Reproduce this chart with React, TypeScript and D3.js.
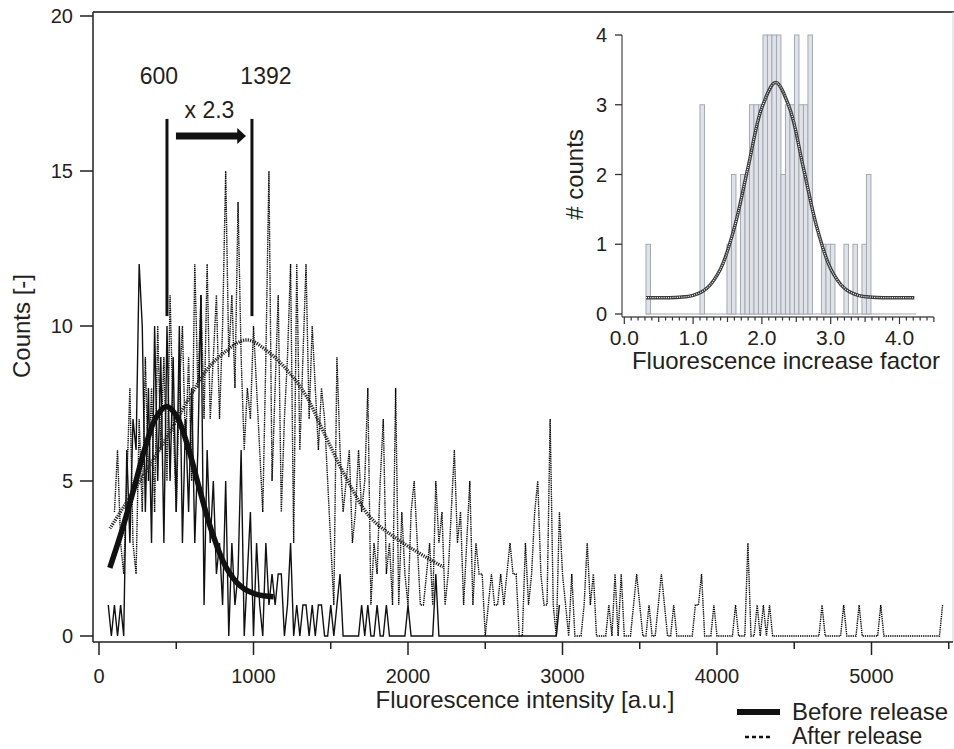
import React from "react";
import * as d3 from "d3";

// main histogram: counts per 20 a.u. bin
const binWidth = 20;
const beforeStart = 60;
const afterStart = 100;

const beforeCounts = [
  1, 0, 1, 0, 1, 0, 6, 3, 7, 6,
  12, 10, 4, 8, 3, 10, 5, 9, 3, 10,
  5, 9, 4, 10, 3, 7, 4, 8, 3, 6,
  11, 1, 6, 3, 5, 2, 3, 1, 5, 0,
  3, 1, 2, 6, 0, 2, 4, 0, 3, 1,
  0, 3, 1, 2, 1, 2, 2, 0, 1, 3,
  0, 1, 0, 1, 1, 0, 1, 0, 1, 1,
  0, 0, 1, 0, 1, 2, 0, 0, 0, 0,
  0, 0, 1, 0, 1, 0, 0, 1, 0, 0,
  1, 0, 0, 0, 0, 0, 0, 1, 0, 0,
  0, 0, 0, 0, 0, 0, 2, 0, 0, 0,
  0, 0, 0, 0, 0, 0, 0, 0, 0, 0,
  0, 0, 0, 0, 0, 0, 0, 0, 0, 0,
  0, 0, 0, 0, 0, 0, 0, 0, 0, 0,
  0, 0, 0, 0, 0, 0, 1,
];

const afterCounts = [
  4, 6, 3, 2, 5, 8, 3, 2, 7, 4,
  9, 5, 8, 4, 10, 6, 9, 5, 11, 7,
  4, 8, 10, 6, 9, 5, 12, 8, 11, 7,
  12, 7, 9, 11, 7, 10, 15, 9, 11, 8,
  14, 9, 6, 8, 7, 10, 8, 6, 4, 9,
  15, 5, 8, 11, 4, 7, 9, 12, 3, 12,
  6, 9, 12, 7, 10, 8, 6, 8, 7, 5,
  3, 1, 9, 6, 4, 5, 6, 3, 4, 6,
  4, 5, 8, 1, 3, 2, 5, 7, 2, 3,
  1, 8, 1, 4, 2, 1, 4, 5, 3, 1,
  1, 2, 3, 1, 5, 3, 4, 1, 2, 4,
  6, 3, 4, 1, 3, 5, 1, 3, 2, 2,
  0, 1, 2, 1, 1, 2, 1, 2, 3, 2,
  2, 0, 0, 3, 1, 2, 4, 5, 2, 1,
  1, 7, 1, 0, 4, 2, 1, 0, 2, 0,
  0, 0, 1, 3, 1, 2, 0, 0, 0, 0,
  1, 0, 2, 0, 2, 0, 0, 0, 1, 2,
  1, 0, 0, 1, 0, 0, 1, 2, 1, 0,
  0, 1, 0, 0, 0, 0, 0, 0, 1, 1,
  2, 0, 0, 0, 1, 0, 0, 0, 0, 0,
  0, 1, 0, 0, 0, 3, 0, 0, 1, 0,
  1, 0, 1, 0, 0, 0, 0, 0, 0, 0,
  0, 0, 0, 0, 0, 0, 0, 0, 0, 1,
  0, 0, 0, 0, 0, 0, 1, 0, 0, 0,
  0, 1, 0, 0, 0, 0, 0, 0, 1, 0,
  0, 0, 0, 0, 0, 0, 0, 0, 0, 0,
  0, 0, 0, 0, 0, 0, 0, 0, 1,
];

// gaussian fits, points
const beforeFitX = [70, 150, 230, 300, 370, 438, 500, 570, 650, 730, 820, 920, 1020, 1130];
const beforeFitY = [2.2, 3.43, 4.83, 6.1, 7.06, 7.4, 7.11, 6.2, 4.75, 3.37, 2.24, 1.59, 1.34, 1.27];
const afterFitX = [71, 265, 438, 589, 697, 805, 956, 1107, 1236, 1344, 1452, 1600, 1754, 1968, 2227];
const afterFitY = [3.47, 5.0, 6.4, 7.72, 8.58, 9.12, 9.55, 9.12, 8.47, 7.72, 6.6, 5.1, 3.84, 3.0, 2.23];

const xTicks = [0, 1000, 2000, 3000, 4000, 5000];
const yTicks = [0, 5, 10, 15, 20];

// peak markers
const peakX = [440, 990];
const peakLabels = ["600", "1392"];
const foldLabel = "x 2.3";

// inset: increase factor histogram
const insetStart = 0.315;
const insetBin = 0.0654;
const insetCounts = [
  1, 0, 0, 0, 0, 0, 0, 0, 0, 0,
  0, 0, 3, 0, 0, 0, 0, 0, 1, 2,
  0, 2, 2, 3, 3, 3, 4, 4, 4, 4,
  2, 3, 3, 4, 3, 3, 4, 0, 0, 1,
  1, 1, 0, 0, 1, 0, 1, 0, 1, 2,
  0, 0, 0, 0, 0, 0, 0, 0, 0, 0,
];
const insetFitX = [0.315, 0.8, 1.0, 1.2, 1.4, 1.6, 1.8, 2.0, 2.2, 2.4, 2.6, 2.8, 3.0, 3.2, 3.4, 3.6, 4.215];
const insetFitY = [0.234, 0.241, 0.268, 0.37, 0.65, 1.24, 2.11, 2.96, 3.32, 2.96, 2.11, 1.24, 0.65, 0.37, 0.268, 0.241, 0.234];
const insetXTicks = [0, 1, 2, 3, 4];
const insetYTicks = [0, 1, 2, 3, 4];

const FONT = "'Liberation Sans', Arial, sans-serif";
const INK = "#231f20";

export default function App() {
  const x = d3.scaleLinear().domain([0, 5000]).range([99, 871.5]);
  const y = d3.scaleLinear().domain([0, 20]).range([636, 16]);
  const left = 93, right = 953, top = 12, bottom = 642;

  const histLine = (start: number) =>
    d3.line<number>()
      .x((_, i) => x(start + i * binWidth))
      .y((d) => y(d));

  const fitLine = d3.line<[number, number]>()
    .x((d) => x(d[0]))
    .y((d) => y(d[1]))
    .curve(d3.curveCatmullRom.alpha(0.5));

  const beforeFit = beforeFitX.map((v, i) => [v, beforeFitY[i]] as [number, number]);
  const afterFit = afterFitX.map((v, i) => [v, afterFitY[i]] as [number, number]);

  const minorX = d3.range(0, 5501, 500);

  // inset scales
  const ix = d3.scaleLinear().domain([0, 4]).range([624.3, 899.5]);
  const iy = d3.scaleLinear().domain([0, 4]).range([314, 35]);
  const iAxisX = 622, iAxisY = 317;
  const insetTicks = d3.range(0, 46);
  const insetFit = insetFitX.map((v, i) => [v, insetFitY[i]] as [number, number]);
  const insetLine = d3.line<[number, number]>()
    .x((d) => ix(d[0]))
    .y((d) => iy(d[1]))
    .curve(d3.curveCatmullRom.alpha(0.5));
  const barW = ix(insetBin) - ix(0);

  const arrowY = y(16.13);
  const markTop = y(16.68), markBottom = y(10.32);

  return (
    <svg width={954} height={749} style={{ position: "absolute", left: 0, top: 0, background: "#fff" }}
      fontFamily={FONT} fill={INK}>
      {/* frame */}
      <line x1={left} x2={right + 1} y1={top} y2={top} stroke="#4a4a4a" strokeWidth={2} />
      <line x1={right} x2={right} y1={top} y2={bottom} stroke="#d4d4d4" strokeWidth={1} />
      <line x1={left} x2={left} y1={top} y2={bottom} stroke={INK} strokeWidth={1.5} />
      <line x1={left} x2={right} y1={bottom} y2={bottom} stroke={INK} strokeWidth={1.5} />

      {/* x axis */}
      {minorX.map((t) => (
        <line key={"mx" + t} x1={x(t)} x2={x(t)} y1={bottom} y2={bottom + (t % 1000 === 0 ? 13 : 7)}
          stroke={INK} strokeWidth={1.5} />
      ))}
      {xTicks.map((t) => (
        <text key={"xt" + t} x={x(t)} y={683} fontSize={20} textAnchor="middle">{t}</text>
      ))}
      <text x={525} y={708} fontSize={24} textAnchor="middle">Fluorescence intensity [a.u.]</text>

      {/* y axis */}
      {yTicks.map((t) => (
        <g key={"yt" + t}>
          <line x1={80} x2={left} y1={y(t)} y2={y(t)} stroke={INK} strokeWidth={1.5} />
          <text x={73} y={y(t) + 7} fontSize={20} textAnchor="end">{t}</text>
        </g>
      ))}
      <text transform={`translate(30,${y(10)}) rotate(-90)`} fontSize={24} textAnchor="middle">Counts [-]</text>

      {/* histograms */}
      <path d={histLine(afterStart)(afterCounts) || ""} fill="none" stroke="#000" strokeWidth={1.4}
        strokeDasharray="1.3 0.9" />
      <path d={histLine(beforeStart)(beforeCounts) || ""} fill="none" stroke="#111" strokeWidth={1.4} />

      {/* fits */}
      <path d={fitLine(afterFit) || ""} fill="none" stroke="#2a2a2a" strokeWidth={3.4} strokeDasharray="1.3 1.1" />
      <path d={fitLine(beforeFit) || ""} fill="none" stroke="#111" strokeWidth={5.5} />

      {/* peak markers */}
      {peakX.map((p, i) => (
        <g key={"pk" + i}>
          <line x1={x(p)} x2={x(p)} y1={markTop} y2={markBottom} stroke="#111" strokeWidth={3} />
          <text x={x(p) + (i === 0 ? -8 : 14)} y={84} fontSize={23} textAnchor="middle">{peakLabels[i]}</text>
        </g>
      ))}
      <text x={(x(peakX[0]) + x(peakX[1])) / 2} y={118} fontSize={23} textAnchor="middle">{foldLabel}</text>
      <line x1={x(498)} x2={x(905)} y1={arrowY} y2={arrowY} stroke="#111" strokeWidth={7} />
      <polygon points={`${x(895)},${arrowY - 8} ${x(951)},${arrowY} ${x(895)},${arrowY + 8}`} fill="#111" />

      {/* inset */}
      <g>
        <line x1={ix(insetStart)} x2={ix(insetStart + insetCounts.length * insetBin)} y1={iy(0)} y2={iy(0)}
          stroke="#a3a9b1" strokeWidth={1} />
        {insetCounts.map((c, i) =>
          c > 0 ? (
            <rect key={"b" + i} x={ix(insetStart + i * insetBin)} y={iy(c)} width={barW} height={iy(0) - iy(c)}
              fill="#dfe3e9" stroke="#a3a9b1" strokeWidth={1} />
          ) : null
        )}
        <path d={insetLine(insetFit) || ""} fill="none" stroke="#3a3a3a" strokeWidth={3.4} />
        <path d={insetLine(insetFit) || ""} fill="none" stroke="#fff" strokeWidth={1.2} strokeDasharray="1 1.2" />

        <line x1={iAxisX} x2={iAxisX} y1={iy(4)} y2={iAxisY} stroke="#555" strokeWidth={1.3} />
        <line x1={iAxisX} x2={ix(4.5)} y1={iAxisY} y2={iAxisY} stroke="#555" strokeWidth={1.3} />
        {insetYTicks.map((t) => (
          <g key={"iyt" + t}>
            <line x1={iAxisX - 7} x2={iAxisX} y1={iy(t)} y2={iy(t)} stroke="#333" strokeWidth={1.3} />
            <text x={607} y={iy(t) + 7} fontSize={20} textAnchor="end">{t}</text>
          </g>
        ))}
        {insetTicks.map((k) => (
          <line key={"ixt" + k} x1={ix(k / 10)} x2={ix(k / 10)} y1={iAxisY}
            y2={iAxisY + (k % 10 === 0 ? 7 : k % 5 === 0 ? 5 : 3.5)} stroke="#333" strokeWidth={1.2} />
        ))}
        {insetXTicks.map((t) => (
          <text key={"ixl" + t} x={ix(t)} y={345} fontSize={21} textAnchor="middle">{t.toFixed(1)}</text>
        ))}
        <text x={786} y={369} fontSize={24} textAnchor="middle">Fluorescence increase factor</text>
        <text transform={`translate(583,${iy(2)}) rotate(-90)`} fontSize={24} textAnchor="middle"># counts</text>
      </g>

      {/* legend */}
      <line x1={737} x2={780} y1={712} y2={712} stroke="#111" strokeWidth={6} />
      <text x={792} y={720} fontSize={24}>Before release</text>
      <line x1={745} x2={773} y1={737} y2={737} stroke="#111" strokeWidth={2.5} strokeDasharray="4 3" />
      <text x={792} y={744} fontSize={23}>After release</text>
    </svg>
  );
}
